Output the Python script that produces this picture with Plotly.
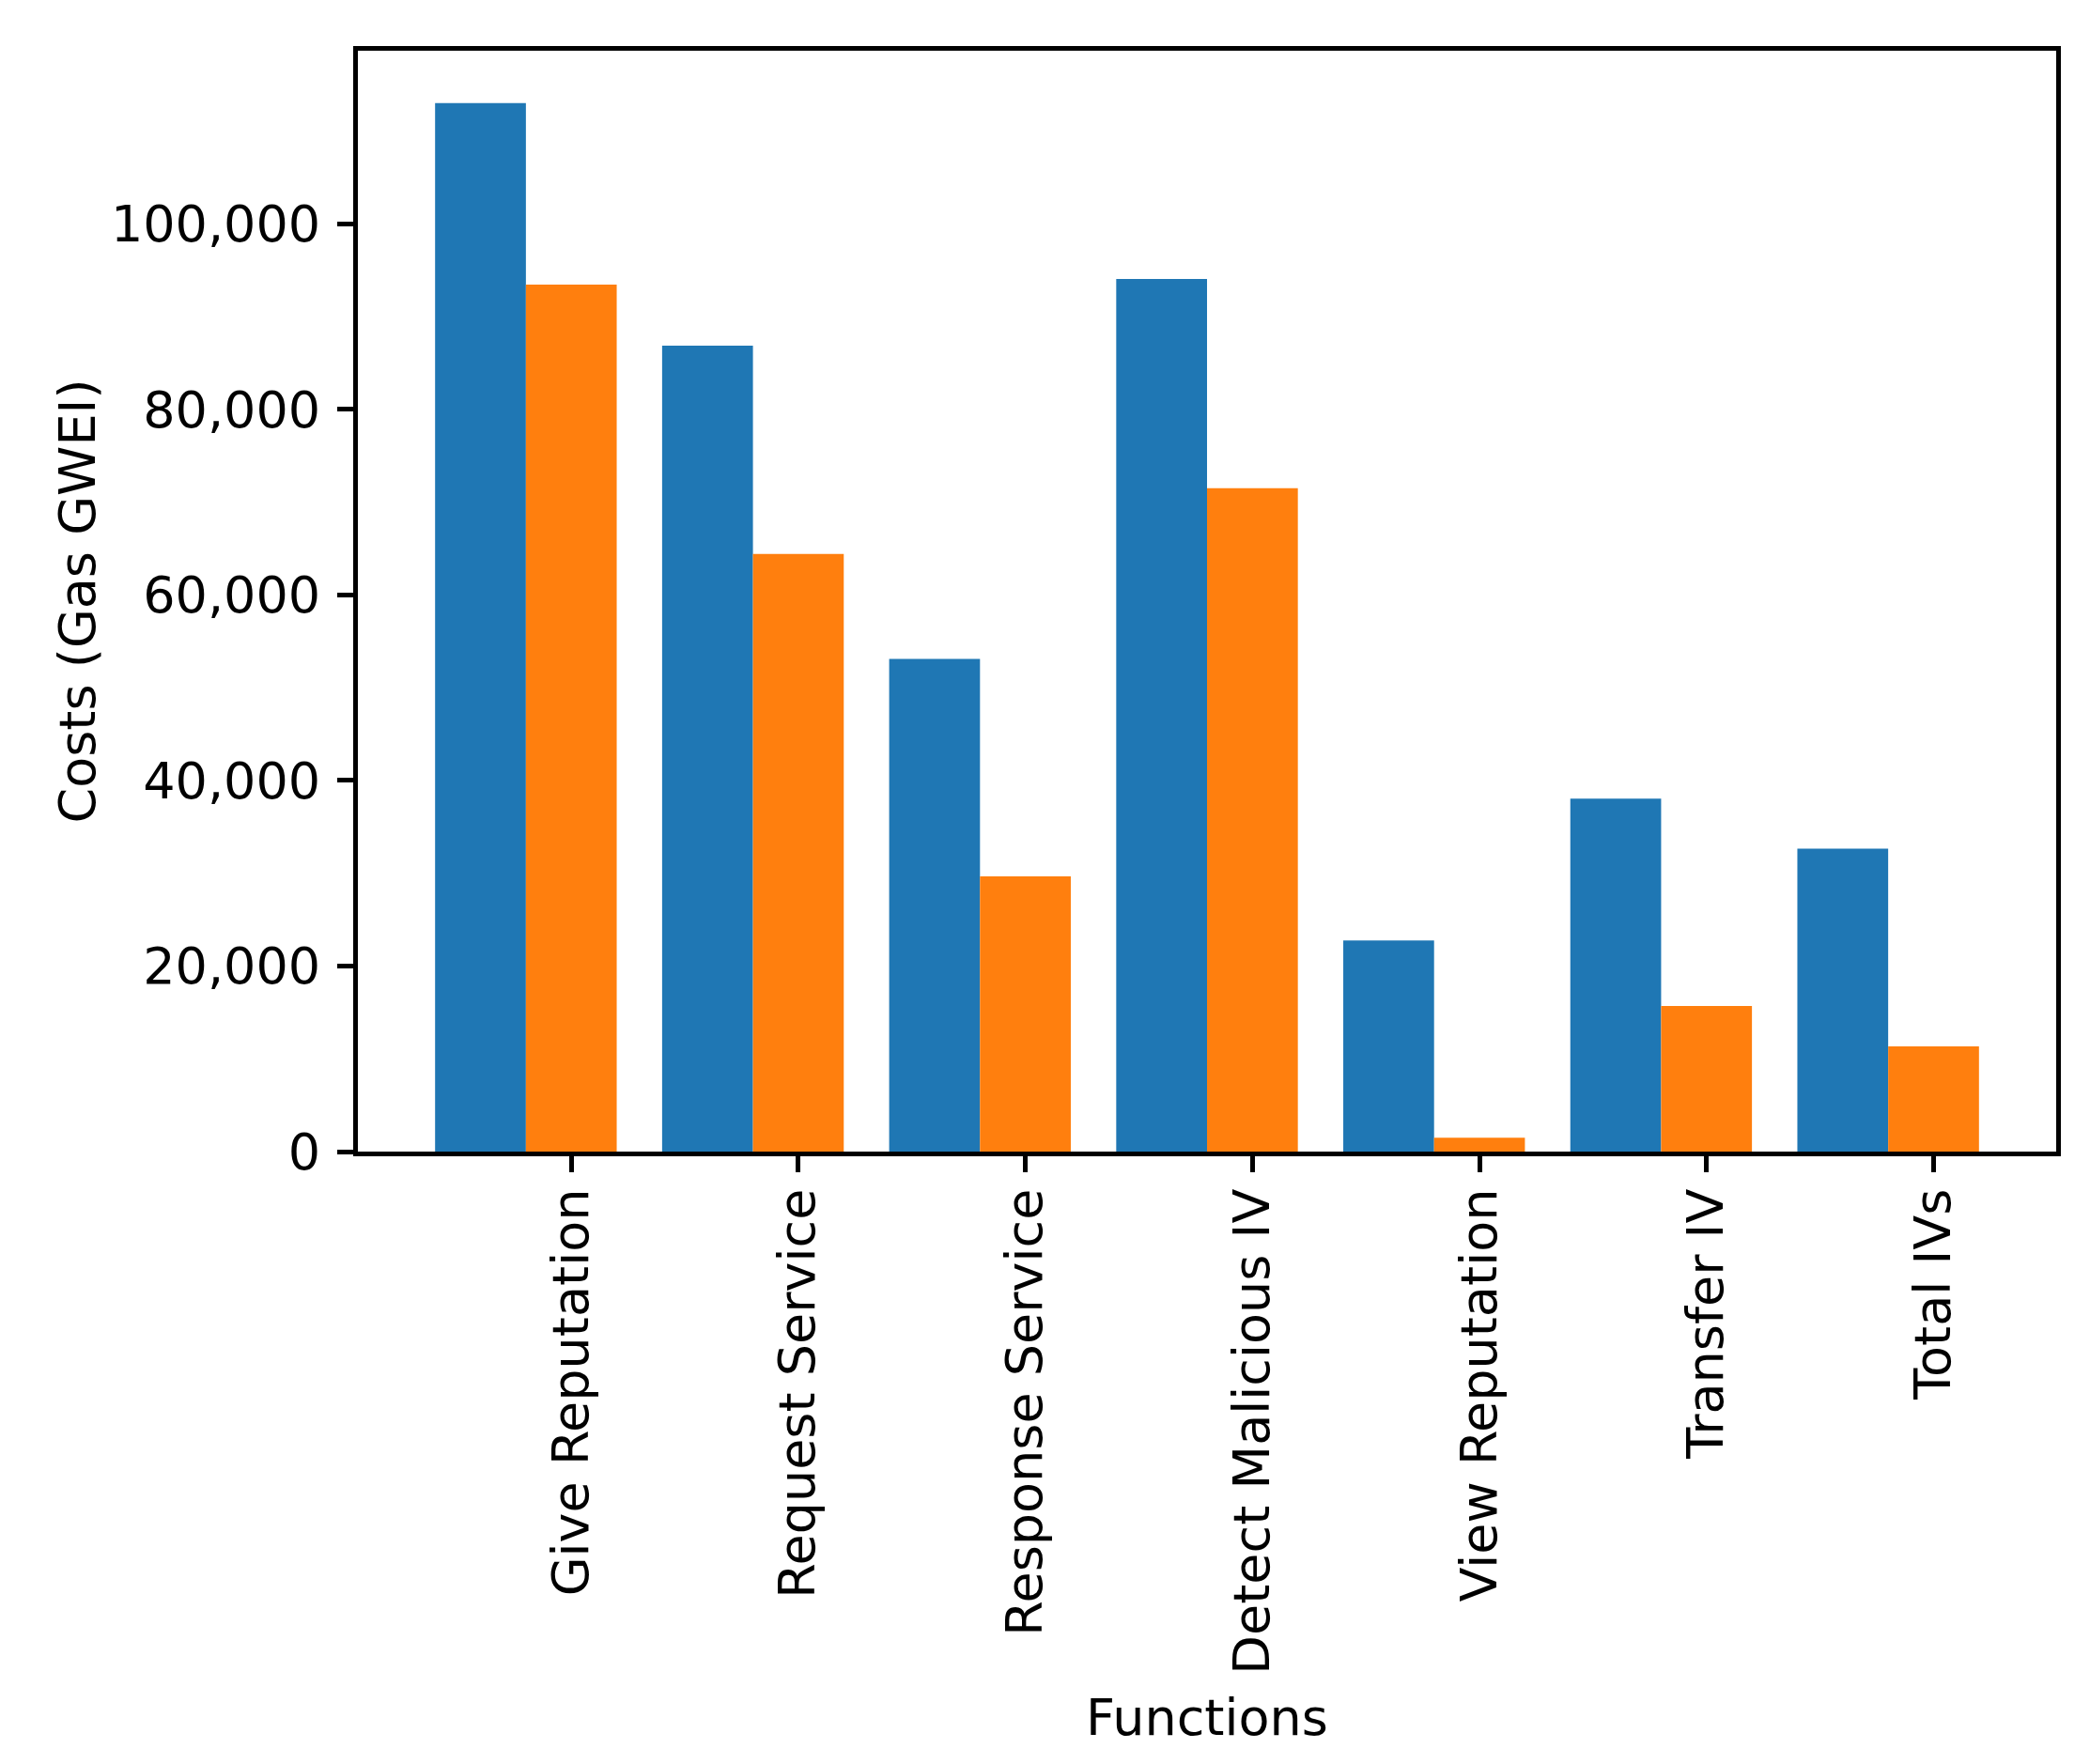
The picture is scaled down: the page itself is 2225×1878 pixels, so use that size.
import plotly.graph_objects as go

categories = ["Give Reputation", "Request Service", "Response Service",
              "Detect Malicious IV", "View Reputation", "Transfer IV", "Total IVs"]
series_blue = [113000, 86850, 53100, 94050, 22750, 38050, 32650]
series_orange = [93450, 64400, 29650, 71500, 1500, 15700, 11350]
y_ticks = [0, 20000, 40000, 60000, 80000, 100000]

BAR_W = 0.4
x_blue = [i for i in range(len(categories))]
x_orange = [i + BAR_W for i in range(len(categories))]

# page body has an 8px margin; compensate so the plot lands where it should
OFF = 8
LW = 5  # axis line width; plotly draws the line outside the plot area
W, H = 2225 - 2 * OFF, 1878 - 2 * OFF
L = 378 - OFF + LW / 2
R = 2192 - OFF - LW / 2
T = 51.5 - OFF + LW / 2
B = 1229 - OFF - LW / 2
FONT = dict(family="DejaVu Sans", size=54, color="black")

fig = go.Figure()
fig.add_trace(go.Bar(x=x_blue, y=series_blue, width=BAR_W, name="Series 1",
                     marker=dict(color="#1f77b4", line=dict(width=0))))
fig.add_trace(go.Bar(x=x_orange, y=series_orange, width=BAR_W, name="Series 2",
                     marker=dict(color="#ff7f0e", line=dict(width=0))))

span = (x_orange[-1] + BAR_W / 2) - (x_blue[0] - BAR_W / 2)
xr = [x_blue[0] - BAR_W / 2 - 0.05 * span, x_orange[-1] + BAR_W / 2 + 0.05 * span]
ymax = max(series_blue + series_orange) * 1.05

fig.update_layout(
    width=W, height=H,
    margin=dict(l=L, r=W - R, t=T, b=H - B, pad=0),
    paper_bgcolor="white", plot_bgcolor="white",
    barmode="overlay", showlegend=False,
    font=FONT,
    xaxis=dict(
        range=xr, tickmode="array", tickvals=x_orange, ticktext=categories,
        tickangle=-90, ticks="outside", ticklen=17, tickwidth=4.5, tickcolor="black",
        showline=True, linewidth=LW, linecolor="black", mirror=True,
        showgrid=False, zeroline=False, tickfont=FONT, ticklabelstandoff=-4,
        title=dict(text="Functions", font=FONT, standoff=29),
    ),
    yaxis=dict(
        range=[0, ymax], tickmode="array", tickvals=y_ticks,
        ticktext=[f"{v:,}" for v in y_ticks],
        ticks="outside", ticklen=17, tickwidth=4.5, tickcolor="black",
        showline=True, linewidth=LW, linecolor="black", mirror=True,
        showgrid=False, zeroline=False, tickfont=FONT, ticklabelstandoff=7,
        title=dict(text="Costs (Gas GWEI)", font=FONT, standoff=0),
    ),
)

fig.write_html("out.html")
